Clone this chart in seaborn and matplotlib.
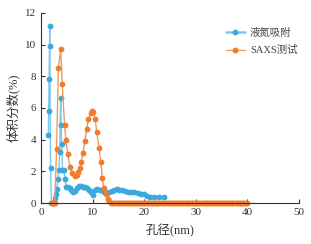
import matplotlib
matplotlib.use("Agg")
import matplotlib.pyplot as plt
import seaborn as sns
import pandas as pd

# ---- data ----
n2_x = [1.35, 1.42, 1.5, 1.58, 1.63, 1.78, 1.95, 2.3, 2.6, 2.8, 3.0, 3.2, 3.4, 3.55,
        3.75, 3.85, 3.95, 4.1, 4.35, 4.6, 4.8, 5.1, 5.5, 5.8, 6.1, 6.5, 6.9, 7.3, 7.7,
        8.1, 8.5, 8.9, 9.3, 9.7, 10.1, 10.5, 10.9, 11.3, 11.7, 12.2, 12.7, 13.2, 13.7,
        14.1, 14.6, 15.1, 15.6, 16.2, 16.8, 17.4, 18.0, 18.7, 19.3, 19.9, 20.5, 21.0,
        21.9, 22.9, 23.9]
n2_y = [4.3, 5.8, 7.8, 9.9, 11.2, 2.2, 0.0, 0.0, 0.3, 0.6, 0.9, 1.5, 2.1, 3.2,
        6.6, 4.9, 3.7, 2.1, 2.1, 1.5, 1.0, 1.0, 0.95, 0.85, 0.7, 0.75, 0.95, 1.05, 1.1,
        1.0, 1.0, 0.95, 0.85, 0.7, 0.5, 0.8, 0.9, 0.85, 0.8, 0.72, 0.65, 0.7, 0.75,
        0.85, 0.9, 0.82, 0.8, 0.75, 0.72, 0.7, 0.68, 0.65, 0.57, 0.55, 0.45, 0.4,
        0.36, 0.36, 0.36]

saxs_x = [2.0, 2.2, 2.4, 2.6, 2.95, 3.3, 3.75, 4.05, 4.5, 4.75, 5.1, 5.55, 6.0, 6.45,
          6.85, 7.15, 7.45, 7.75, 8.05, 8.45, 8.8, 9.15, 9.55, 9.85, 10.1, 10.45, 10.75,
          11.2, 11.55, 11.85, 12.1, 12.5, 12.9, 13.2, 13.6,
          13.9, 14.2, 14.5, 14.8, 15.1, 15.4, 15.7, 16.0, 16.3, 16.6, 16.9, 17.2, 17.5,
          17.8, 18.1, 18.4, 18.7, 19.0, 19.3, 19.6, 19.9, 20.2, 20.5, 20.8, 21.1, 21.4,
          21.7, 22.0, 22.3, 22.6, 22.9, 23.2, 23.5, 23.8, 24.1, 24.4, 24.7, 25.0, 25.3,
          25.6, 25.9, 26.2, 26.5, 26.8, 27.1, 27.4, 27.7, 28.0, 28.3, 28.6, 28.9, 29.2,
          29.5, 29.8, 30.1, 30.4, 30.7, 31.0, 31.3, 31.6, 31.9, 32.2, 32.5, 32.8, 33.1,
          33.4, 33.7, 34.0, 34.3, 34.6, 34.9, 35.2, 35.5, 35.8, 36.1, 36.4, 36.7, 37.0,
          37.3, 37.6, 37.9, 38.2, 38.5, 38.8, 39.1, 39.4, 39.7, 40.0]
saxs_y = [0.0, 0.0, 0.0, 0.0, 3.4, 8.5, 9.75, 7.5, 4.95, 4.0, 3.1, 2.3, 1.88, 1.72,
          1.75, 1.98, 2.2, 2.6, 3.15, 3.9, 4.7, 5.3, 5.7, 5.8, 5.76, 5.3, 4.5,
          3.5, 2.6, 1.56, 0.93, 0.55, 0.27, 0.12, 0.0,
          0.0, 0.0, 0.0, 0.0, 0.0, 0.0, 0.0, 0.0, 0.0, 0.0, 0.0, 0.0, 0.0,
          0.0, 0.0, 0.0, 0.0, 0.0, 0.0, 0.0, 0.0, 0.0, 0.0, 0.0, 0.0, 0.0,
          0.0, 0.0, 0.0, 0.0, 0.0, 0.0, 0.0, 0.0, 0.0, 0.0, 0.0, 0.0, 0.0,
          0.0, 0.0, 0.0, 0.0, 0.0, 0.0, 0.0, 0.0, 0.0, 0.0, 0.0, 0.0, 0.0,
          0.0, 0.0, 0.0, 0.0, 0.0, 0.0, 0.0, 0.0, 0.0, 0.0, 0.0, 0.0, 0.0,
          0.0, 0.0, 0.0, 0.0, 0.0, 0.0, 0.0, 0.0, 0.0, 0.0, 0.0, 0.0, 0.0,
          0.0, 0.0, 0.0, 0.0, 0.0, 0.0, 0.0, 0.0, 0.0, 0.0]

series_names = ["液氮吸附", "SAXS测试"]
x_ticks = [0, 10, 20, 30, 40, 50]
y_ticks = [0, 2, 4, 6, 8, 10, 12]

df = pd.concat([
    pd.DataFrame({"x": n2_x, "y": n2_y, "series": series_names[0]}),
    pd.DataFrame({"x": saxs_x, "y": saxs_y, "series": series_names[1]}),
], ignore_index=True)

sns.set_style("ticks")
plt.rcParams["font.family"] = ["Liberation Serif", "Noto Sans CJK SC", "DejaVu Sans"]

fig = plt.figure(figsize=(3.11, 2.44), dpi=100)
ax = fig.add_axes([0.133, 0.168, 0.828, 0.779])

marker_colors = {series_names[0]: "#3ba9dc", series_names[1]: "#f07d2e"}
line_colors = {series_names[0]: "#7cc6ea", series_names[1]: "#f39a5e"}
sns.lineplot(data=df, x="x", y="y", hue="series", palette=marker_colors, ax=ax,
             marker="o", markersize=4.2, markeredgewidth=0, linewidth=1.0,
             sort=False, estimator=None, clip_on=False, legend=True)

for line, name in zip(ax.lines[:2], series_names):
    line.set_color(line_colors[name])
    line.set_markerfacecolor(marker_colors[name])
    line.set_markeredgecolor(marker_colors[name])

ax.set_xlim(0, 50)
ax.set_ylim(0, 12)
ax.set_xticks(x_ticks)
ax.set_yticks(y_ticks)
ax.tick_params(direction="in", length=3, width=0.8, labelsize=8, colors="#333333",
               labelcolor="#333333")
for s in ["top", "right"]:
    ax.spines[s].set_visible(False)
for s in ["left", "bottom"]:
    ax.spines[s].set_linewidth(0.8)
    ax.spines[s].set_color("#333333")

ax.set_xlabel("孔径(nm)", fontsize=9, color="#333333", labelpad=5)
ax.set_ylabel("体积分数(%)", fontsize=9, color="#333333", labelpad=4)

leg = ax.legend(frameon=False, loc="upper left", bbox_to_anchor=(0.68, 0.97),
                fontsize=7.5, handlelength=1.8, labelspacing=0.7, handletextpad=0.5)
for h, name in zip(leg.legend_handles, series_names):
    h.set_color(line_colors[name])
    h.set_linewidth(1.8 if name == series_names[0] else 1.0)
    h.set_markerfacecolor(marker_colors[name])
    h.set_markeredgecolor(marker_colors[name])
for t in leg.get_texts():
    t.set_color("#444444")

fig.savefig("out.png", dpi=100)
